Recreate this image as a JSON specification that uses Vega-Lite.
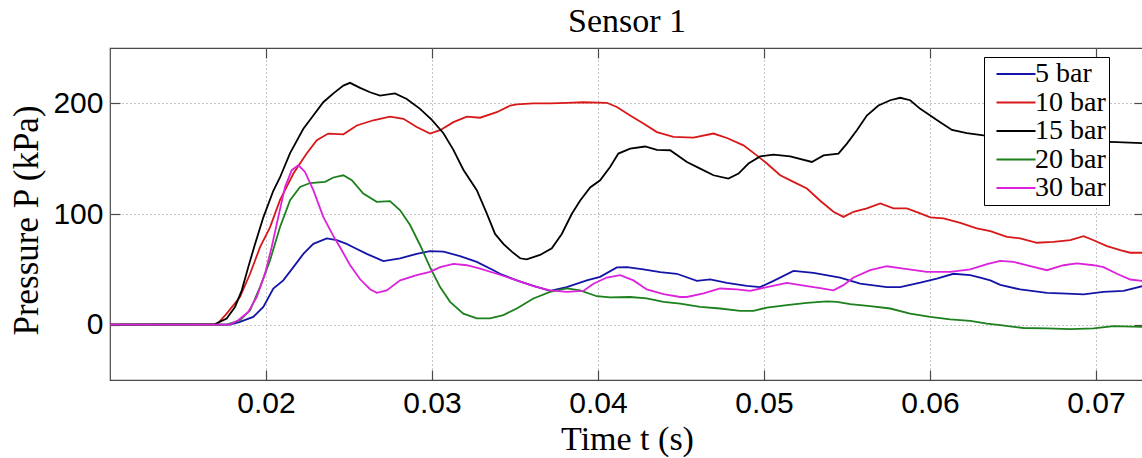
{
  "$schema": "https://vega.github.io/schema/vega-lite/v6.json",
  "autosize": "none",
  "padding": {"left": 110, "top": 48, "right": 0, "bottom": 78},
  "width": 1034,
  "height": 332,
  "background": "white",
  "title": {"text": "Sensor 1", "font": "Liberation Serif", "fontSize": 34, "fontWeight": "normal", "color": "#000", "anchor": "middle", "offset": 8},
  "data": {"values": [
    {"s":"5 bar","t":0.0106,"p":0},{"s":"5 bar","t":0.01783,"p":0},{"s":"5 bar","t":0.01843,"p":2.5},{"s":"5 bar","t":0.01923,"p":7},{"s":"5 bar","t":0.01984,"p":16},{"s":"5 bar","t":0.02044,"p":32.7},{"s":"5 bar","t":0.02104,"p":40},{"s":"5 bar","t":0.02165,"p":52},{"s":"5 bar","t":0.02225,"p":64},{"s":"5 bar","t":0.02285,"p":73},{"s":"5 bar","t":0.02366,"p":78},{"s":"5 bar","t":0.02426,"p":76.3},{"s":"5 bar","t":0.02486,"p":73},{"s":"5 bar","t":0.02526,"p":70},{"s":"5 bar","t":0.02607,"p":64},{"s":"5 bar","t":0.02707,"p":57.4},{"s":"5 bar","t":0.02808,"p":60},{"s":"5 bar","t":0.02908,"p":64},{"s":"5 bar","t":0.02988,"p":66.4},{"s":"5 bar","t":0.03069,"p":66},{"s":"5 bar","t":0.03169,"p":62},{"s":"5 bar","t":0.0327,"p":56.7},{"s":"5 bar","t":0.0337,"p":49.2},{"s":"5 bar","t":0.0341,"p":46},{"s":"5 bar","t":0.03511,"p":40},{"s":"5 bar","t":0.03611,"p":35},{"s":"5 bar","t":0.03712,"p":30.5},{"s":"5 bar","t":0.03812,"p":34},{"s":"5 bar","t":0.03933,"p":40},{"s":"5 bar","t":0.04013,"p":43.2},{"s":"5 bar","t":0.04114,"p":51.7},{"s":"5 bar","t":0.04174,"p":52},{"s":"5 bar","t":0.04274,"p":50},{"s":"5 bar","t":0.04375,"p":47.5},{"s":"5 bar","t":0.04475,"p":46},{"s":"5 bar","t":0.04596,"p":39.6},{"s":"5 bar","t":0.04676,"p":41},{"s":"5 bar","t":0.04777,"p":37.8},{"s":"5 bar","t":0.04897,"p":35},{"s":"5 bar","t":0.04977,"p":34},{"s":"5 bar","t":0.05058,"p":39.6},{"s":"5 bar","t":0.05178,"p":48.6},{"s":"5 bar","t":0.05299,"p":46.8},{"s":"5 bar","t":0.05459,"p":42.6},{"s":"5 bar","t":0.0558,"p":37},{"s":"5 bar","t":0.05741,"p":34},{"s":"5 bar","t":0.05821,"p":34},{"s":"5 bar","t":0.05942,"p":38},{"s":"5 bar","t":0.06042,"p":41.7},{"s":"5 bar","t":0.06142,"p":46},{"s":"5 bar","t":0.06243,"p":44.7},{"s":"5 bar","t":0.06303,"p":42.6},{"s":"5 bar","t":0.06364,"p":40},{"s":"5 bar","t":0.06424,"p":36},{"s":"5 bar","t":0.06544,"p":31.8},{"s":"5 bar","t":0.06705,"p":28.7},{"s":"5 bar","t":0.06826,"p":28},{"s":"5 bar","t":0.06926,"p":27.3},{"s":"5 bar","t":0.07046,"p":29.6},{"s":"5 bar","t":0.07167,"p":30.5},{"s":"5 bar","t":0.0728,"p":34.8},

    {"s":"10 bar","t":0.0106,"p":0},{"s":"10 bar","t":0.01703,"p":0},{"s":"10 bar","t":0.01763,"p":10},{"s":"10 bar","t":0.01843,"p":25},{"s":"10 bar","t":0.01904,"p":46},{"s":"10 bar","t":0.01964,"p":70},{"s":"10 bar","t":0.02024,"p":88},{"s":"10 bar","t":0.02084,"p":112.5},{"s":"10 bar","t":0.02165,"p":136.6},{"s":"10 bar","t":0.02245,"p":154.6},{"s":"10 bar","t":0.02306,"p":166.7},{"s":"10 bar","t":0.02375,"p":172.7},{"s":"10 bar","t":0.02466,"p":172},{"s":"10 bar","t":0.02547,"p":180},{"s":"10 bar","t":0.02647,"p":184.7},{"s":"10 bar","t":0.02747,"p":188},{"s":"10 bar","t":0.02828,"p":186},{"s":"10 bar","t":0.02908,"p":178.6},{"s":"10 bar","t":0.02988,"p":172.7},{"s":"10 bar","t":0.03049,"p":175.7},{"s":"10 bar","t":0.03129,"p":183},{"s":"10 bar","t":0.0321,"p":188},{"s":"10 bar","t":0.0329,"p":187},{"s":"10 bar","t":0.0339,"p":192},{"s":"10 bar","t":0.03471,"p":198},{"s":"10 bar","t":0.03511,"p":199},{"s":"10 bar","t":0.03611,"p":200},{"s":"10 bar","t":0.03712,"p":200},{"s":"10 bar","t":0.03812,"p":200.5},{"s":"10 bar","t":0.03912,"p":201},{"s":"10 bar","t":0.04053,"p":200.5},{"s":"10 bar","t":0.04114,"p":196.7},{"s":"10 bar","t":0.04194,"p":189},{"s":"10 bar","t":0.04274,"p":181.7},{"s":"10 bar","t":0.04355,"p":174},{"s":"10 bar","t":0.04455,"p":169.6},{"s":"10 bar","t":0.04575,"p":169},{"s":"10 bar","t":0.04696,"p":172.7},{"s":"10 bar","t":0.04777,"p":168.7},{"s":"10 bar","t":0.04877,"p":162},{"s":"10 bar","t":0.04957,"p":153},{"s":"10 bar","t":0.05018,"p":145.6},{"s":"10 bar","t":0.05098,"p":135},{"s":"10 bar","t":0.05178,"p":129},{"s":"10 bar","t":0.05259,"p":123},{"s":"10 bar","t":0.05339,"p":112},{"s":"10 bar","t":0.05419,"p":102},{"s":"10 bar","t":0.05479,"p":97.4},{"s":"10 bar","t":0.0554,"p":102},{"s":"10 bar","t":0.0562,"p":105},{"s":"10 bar","t":0.05701,"p":109.5},{"s":"10 bar","t":0.05781,"p":105},{"s":"10 bar","t":0.05861,"p":105},{"s":"10 bar","t":0.05942,"p":100.5},{"s":"10 bar","t":0.06002,"p":97},{"s":"10 bar","t":0.06082,"p":96},{"s":"10 bar","t":0.06183,"p":92},{"s":"10 bar","t":0.06283,"p":87},{"s":"10 bar","t":0.06364,"p":84.5},{"s":"10 bar","t":0.06464,"p":79.4},{"s":"10 bar","t":0.06544,"p":78},{"s":"10 bar","t":0.06645,"p":74},{"s":"10 bar","t":0.06745,"p":74.8},{"s":"10 bar","t":0.06846,"p":76.3},{"s":"10 bar","t":0.06926,"p":80},{"s":"10 bar","t":0.06986,"p":76.3},{"s":"10 bar","t":0.07067,"p":71},{"s":"10 bar","t":0.07147,"p":67.3},{"s":"10 bar","t":0.07207,"p":65},{"s":"10 bar","t":0.0728,"p":65},

    {"s":"15 bar","t":0.0106,"p":0},{"s":"15 bar","t":0.01693,"p":0.5},{"s":"15 bar","t":0.01763,"p":5.6},{"s":"15 bar","t":0.01813,"p":16},{"s":"15 bar","t":0.01854,"p":31},{"s":"15 bar","t":0.01893,"p":52},{"s":"15 bar","t":0.01934,"p":73},{"s":"15 bar","t":0.01984,"p":97},{"s":"15 bar","t":0.02044,"p":121},{"s":"15 bar","t":0.02084,"p":133},{"s":"15 bar","t":0.02145,"p":155},{"s":"15 bar","t":0.02225,"p":177},{"s":"15 bar","t":0.02285,"p":189},{"s":"15 bar","t":0.02345,"p":201},{"s":"15 bar","t":0.02406,"p":209},{"s":"15 bar","t":0.02466,"p":216},{"s":"15 bar","t":0.02506,"p":218.5},{"s":"15 bar","t":0.02567,"p":214},{"s":"15 bar","t":0.02627,"p":210},{"s":"15 bar","t":0.02687,"p":207},{"s":"15 bar","t":0.02777,"p":209},{"s":"15 bar","t":0.02848,"p":204},{"s":"15 bar","t":0.02928,"p":195},{"s":"15 bar","t":0.02999,"p":185},{"s":"15 bar","t":0.03069,"p":173},{"s":"15 bar","t":0.03129,"p":158},{"s":"15 bar","t":0.03189,"p":140},{"s":"15 bar","t":0.0327,"p":121.5},{"s":"15 bar","t":0.0333,"p":100.5},{"s":"15 bar","t":0.0338,"p":82},{"s":"15 bar","t":0.0343,"p":73},{"s":"15 bar","t":0.03481,"p":66},{"s":"15 bar","t":0.03531,"p":60},{"s":"15 bar","t":0.03571,"p":59},{"s":"15 bar","t":0.03651,"p":63},{"s":"15 bar","t":0.03722,"p":69},{"s":"15 bar","t":0.03782,"p":82},{"s":"15 bar","t":0.03842,"p":100},{"s":"15 bar","t":0.03892,"p":112},{"s":"15 bar","t":0.03953,"p":124},{"s":"15 bar","t":0.04013,"p":130.5},{"s":"15 bar","t":0.04073,"p":142.5},{"s":"15 bar","t":0.04123,"p":154.6},{"s":"15 bar","t":0.04194,"p":159},{"s":"15 bar","t":0.04284,"p":161},{"s":"15 bar","t":0.04355,"p":158},{"s":"15 bar","t":0.04435,"p":157.6},{"s":"15 bar","t":0.04536,"p":147},{"s":"15 bar","t":0.04616,"p":141},{"s":"15 bar","t":0.04696,"p":135},{"s":"15 bar","t":0.04786,"p":132},{"s":"15 bar","t":0.04847,"p":136.5},{"s":"15 bar","t":0.04907,"p":145.6},{"s":"15 bar","t":0.04977,"p":152},{"s":"15 bar","t":0.05058,"p":153.7},{"s":"15 bar","t":0.05158,"p":152},{"s":"15 bar","t":0.05289,"p":147},{"s":"15 bar","t":0.05359,"p":153},{"s":"15 bar","t":0.05449,"p":154.6},{"s":"15 bar","t":0.055,"p":163.6},{"s":"15 bar","t":0.0556,"p":175.7},{"s":"15 bar","t":0.0562,"p":189},{"s":"15 bar","t":0.0569,"p":198},{"s":"15 bar","t":0.05761,"p":202.8},{"s":"15 bar","t":0.05821,"p":205},{"s":"15 bar","t":0.05881,"p":202.8},{"s":"15 bar","t":0.05942,"p":195},{"s":"15 bar","t":0.06002,"p":189},{"s":"15 bar","t":0.06062,"p":183},{"s":"15 bar","t":0.06133,"p":176},{"s":"15 bar","t":0.06223,"p":173},{"s":"15 bar","t":0.06323,"p":171},{"s":"15 bar","t":0.06424,"p":170},{"s":"15 bar","t":0.06645,"p":168},{"s":"15 bar","t":0.06886,"p":166},{"s":"15 bar","t":0.07127,"p":165},{"s":"15 bar","t":0.0728,"p":164},

    {"s":"20 bar","t":0.0106,"p":0},{"s":"20 bar","t":0.01763,"p":0},{"s":"20 bar","t":0.01843,"p":4},{"s":"20 bar","t":0.01904,"p":13},{"s":"20 bar","t":0.01964,"p":34},{"s":"20 bar","t":0.02024,"p":58},{"s":"20 bar","t":0.02084,"p":88},{"s":"20 bar","t":0.02145,"p":112.5},{"s":"20 bar","t":0.02205,"p":124.5},{"s":"20 bar","t":0.02265,"p":128},{"s":"20 bar","t":0.02356,"p":129},{"s":"20 bar","t":0.02406,"p":133},{"s":"20 bar","t":0.02466,"p":135},{"s":"20 bar","t":0.02517,"p":130.5},{"s":"20 bar","t":0.02586,"p":118.5},{"s":"20 bar","t":0.02667,"p":111},{"s":"20 bar","t":0.02747,"p":111.6},{"s":"20 bar","t":0.02808,"p":103.4},{"s":"20 bar","t":0.02868,"p":90},{"s":"20 bar","t":0.02928,"p":72},{"s":"20 bar","t":0.02988,"p":52},{"s":"20 bar","t":0.03049,"p":34},{"s":"20 bar","t":0.03109,"p":20.6},{"s":"20 bar","t":0.03189,"p":10},{"s":"20 bar","t":0.0327,"p":5.6},{"s":"20 bar","t":0.0335,"p":5.6},{"s":"20 bar","t":0.0343,"p":8.6},{"s":"20 bar","t":0.03511,"p":14.6},{"s":"20 bar","t":0.03611,"p":23.7},{"s":"20 bar","t":0.03712,"p":29.6},{"s":"20 bar","t":0.03812,"p":32.7},{"s":"20 bar","t":0.03892,"p":31},{"s":"20 bar","t":0.03993,"p":25.7},{"s":"20 bar","t":0.04073,"p":24.6},{"s":"20 bar","t":0.04194,"p":25},{"s":"20 bar","t":0.04294,"p":23.7},{"s":"20 bar","t":0.04395,"p":20.6},{"s":"20 bar","t":0.04495,"p":19},{"s":"20 bar","t":0.04616,"p":16},{"s":"20 bar","t":0.04736,"p":14.6},{"s":"20 bar","t":0.04857,"p":12.5},{"s":"20 bar","t":0.04937,"p":12.5},{"s":"20 bar","t":0.05018,"p":15.5},{"s":"20 bar","t":0.05138,"p":17.6},{"s":"20 bar","t":0.05259,"p":19.7},{"s":"20 bar","t":0.05379,"p":21},{"s":"20 bar","t":0.0544,"p":20.6},{"s":"20 bar","t":0.0552,"p":18.5},{"s":"20 bar","t":0.0564,"p":16.7},{"s":"20 bar","t":0.05761,"p":14.6},{"s":"20 bar","t":0.05881,"p":10},{"s":"20 bar","t":0.06002,"p":7},{"s":"20 bar","t":0.06122,"p":4.7},{"s":"20 bar","t":0.06243,"p":3.4},{"s":"20 bar","t":0.06344,"p":1},{"s":"20 bar","t":0.06424,"p":-0.5},{"s":"20 bar","t":0.06564,"p":-3},{"s":"20 bar","t":0.06705,"p":-3.4},{"s":"20 bar","t":0.06846,"p":-4},{"s":"20 bar","t":0.06986,"p":-3.4},{"s":"20 bar","t":0.07107,"p":-1.4},{"s":"20 bar","t":0.0728,"p":-2},

    {"s":"30 bar","t":0.0106,"p":0},{"s":"30 bar","t":0.01783,"p":0},{"s":"30 bar","t":0.01833,"p":4},{"s":"30 bar","t":0.01893,"p":11.6},{"s":"30 bar","t":0.01944,"p":25},{"s":"30 bar","t":0.01994,"p":46},{"s":"30 bar","t":0.02034,"p":70},{"s":"30 bar","t":0.02074,"p":97.4},{"s":"30 bar","t":0.02115,"p":124.5},{"s":"30 bar","t":0.02155,"p":139.6},{"s":"30 bar","t":0.02195,"p":144},{"s":"30 bar","t":0.02235,"p":138},{"s":"30 bar","t":0.02285,"p":121.5},{"s":"30 bar","t":0.02345,"p":97.4},{"s":"30 bar","t":0.02406,"p":80},{"s":"30 bar","t":0.02446,"p":70},{"s":"30 bar","t":0.02506,"p":54},{"s":"30 bar","t":0.02567,"p":41},{"s":"30 bar","t":0.02627,"p":32},{"s":"30 bar","t":0.02667,"p":28.7},{"s":"30 bar","t":0.02727,"p":31},{"s":"30 bar","t":0.02808,"p":40},{"s":"30 bar","t":0.02908,"p":44.7},{"s":"30 bar","t":0.02988,"p":47.7},{"s":"30 bar","t":0.03049,"p":52},{"s":"30 bar","t":0.03129,"p":55},{"s":"30 bar","t":0.0321,"p":53.7},{"s":"30 bar","t":0.0329,"p":50.7},{"s":"30 bar","t":0.0339,"p":46},{"s":"30 bar","t":0.03511,"p":40},{"s":"30 bar","t":0.03611,"p":34.8},{"s":"30 bar","t":0.03712,"p":31},{"s":"30 bar","t":0.03812,"p":29.6},{"s":"30 bar","t":0.03912,"p":30.5},{"s":"30 bar","t":0.03973,"p":37},{"s":"30 bar","t":0.04053,"p":42.6},{"s":"30 bar","t":0.04134,"p":44.7},{"s":"30 bar","t":0.04214,"p":40},{"s":"30 bar","t":0.04294,"p":31.8},{"s":"30 bar","t":0.04395,"p":27.6},{"s":"30 bar","t":0.04495,"p":25},{"s":"30 bar","t":0.04536,"p":25},{"s":"30 bar","t":0.04636,"p":28.2},{"s":"30 bar","t":0.04736,"p":32.7},{"s":"30 bar","t":0.04837,"p":31.8},{"s":"30 bar","t":0.04917,"p":30.5},{"s":"30 bar","t":0.05018,"p":34},{"s":"30 bar","t":0.05138,"p":37.7},{"s":"30 bar","t":0.05259,"p":34.8},{"s":"30 bar","t":0.05339,"p":33},{"s":"30 bar","t":0.05419,"p":31},{"s":"30 bar","t":0.05479,"p":35.7},{"s":"30 bar","t":0.0554,"p":42.6},{"s":"30 bar","t":0.0564,"p":49.2},{"s":"30 bar","t":0.05741,"p":52.8},{"s":"30 bar","t":0.05841,"p":50.7},{"s":"30 bar","t":0.05982,"p":47.7},{"s":"30 bar","t":0.06122,"p":47.7},{"s":"30 bar","t":0.06243,"p":49.9},{"s":"30 bar","t":0.06344,"p":54.7},{"s":"30 bar","t":0.06424,"p":57.6},{"s":"30 bar","t":0.06504,"p":56.7},{"s":"30 bar","t":0.06605,"p":52.8},{"s":"30 bar","t":0.06705,"p":49.2},{"s":"30 bar","t":0.06805,"p":53.7},{"s":"30 bar","t":0.06886,"p":55.3},{"s":"30 bar","t":0.06986,"p":53.7},{"s":"30 bar","t":0.07046,"p":52},{"s":"30 bar","t":0.07127,"p":46},{"s":"30 bar","t":0.07207,"p":40.8},{"s":"30 bar","t":0.0728,"p":39.6}
  ]},
  "layer": [
    {
      "mark": {"type": "point", "opacity": 0},
      "encoding": {
        "x": {"field": "t", "type": "quantitative", "scale": {"domain": [0.0106, 0.0729], "nice": false, "zero": false},
              "axis": {"orient": "bottom", "values": [0.02, 0.03, 0.04, 0.05, 0.06, 0.07], "format": ".2f", "title": "Time t (s)", "grid": true, "ticks": false, "labelPadding": 8, "titleBaseline": "alphabetic", "titleY": 69, "titleFontSize": 34}},
        "y": {"field": "p", "type": "quantitative", "scale": {"domain": [-50, 250], "nice": false},
              "axis": {"orient": "left", "values": [0, 100, 200], "format": "d", "title": "Pressure P (kPa)", "grid": true, "ticks": false, "labelPadding": 7, "titleBaseline": "alphabetic", "titleX": -73, "titleY": 172}}
      }
    },
    {
      "mark": {"type": "point", "opacity": 0},
      "encoding": {
        "x": {"field": "t", "type": "quantitative", "axis": {"orient": "bottom", "values": [0.02, 0.03, 0.04, 0.05, 0.06, 0.07], "labels": false, "grid": false, "title": null}},
        "y": {"field": "p", "type": "quantitative", "axis": {"orient": "left", "values": [0, 100, 200], "labels": false, "grid": false, "title": null}}
      }
    },
    {
      "mark": {"type": "line", "strokeWidth": 1.8, "clip": true},
      "encoding": {
        "x": {"field": "t", "type": "quantitative", "axis": {"orient": "top", "values": [0.02, 0.03, 0.04, 0.05, 0.06, 0.07], "labels": false, "grid": false, "title": null}},
        "y": {"field": "p", "type": "quantitative", "axis": {"orient": "right", "values": [0, 100, 200], "labels": false, "grid": false, "title": null}},
        "color": {"field": "s", "type": "nominal", "sort": ["5 bar", "10 bar", "15 bar", "20 bar", "30 bar"],
                  "scale": {"domain": ["5 bar", "10 bar", "15 bar", "20 bar", "30 bar"], "range": ["#1414a8", "#d81818", "#000000", "#1c801c", "#dc22dc"]},
                  "legend": {"orient": "none", "legendX": 874, "legendY": 9, "title": null}},
        "order": {"field": "t", "type": "quantitative"}
      }
    }
  ],
  "resolve": {"axis": {"x": "independent", "y": "independent"}},
  "config": {
    "view": {"stroke": "#4a4a4a", "strokeWidth": 1.2},
    "axis": {
      "domain": false,
      "ticks": true,
      "tickSize": -10,
      "tickColor": "#4a4a4a",
      "tickWidth": 1.2,
      "labelFont": "Liberation Sans",
      "labelFontSize": 30,
      "labelColor": "#000",
      "titleFont": "Liberation Serif",
      "titleFontSize": 35,
      "titleFontWeight": "normal",
      "titleColor": "#000",
      "gridColor": "#8a8a8a",
      "gridDash": [1, 3],
      "gridWidth": 1,
      "gridOpacity": 1
    },
    "legend": {
      "symbolType": "M-2,0H2",
      "symbolSize": 380,
      "symbolStrokeWidth": 2,
      "symbolOffset": 15,
      "labelOffset": 5,
      "labelFont": "Liberation Serif",
      "labelFontSize": 28,
      "labelColor": "#000",
      "strokeColor": "#000",
      "fillColor": "#fff",
      "padding": 3,
      "rowPadding": 0.5
    }
  }
}
